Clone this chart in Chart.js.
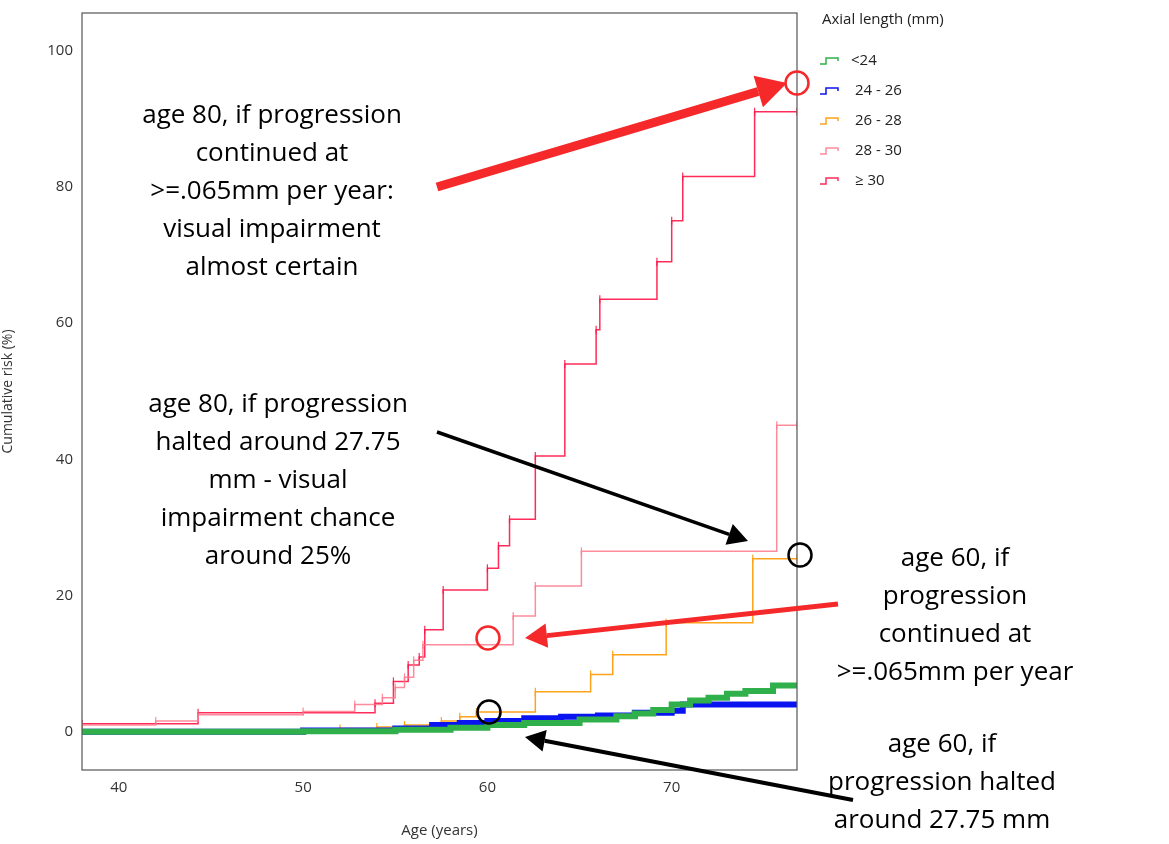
<!DOCTYPE html>
<html>
<head>
<meta charset="utf-8">
<script src="https://cdn.jsdelivr.net/npm/chart.js@4/dist/chart.umd.min.js"></script>
<style>
  html, body { margin: 0; padding: 0; background: #fff; }
  #wrap { width: 1169px; height: 844px; }
</style>
</head>
<body>
<div id="wrap"><canvas id="c"></canvas></div>
<script>
// step curves, [age, cumulative risk %]
const under24 = [[38,0],[50,0.1],[55,0.3],[58,0.6],[60,1],[62,1.3],[65,1.8],[67,2.3],[68,2.7],[69,3.2],[70,4],[71,4.6],[72,5],[73,5.6],[74,6],[75.5,6.8],[76.8,7]];
const r24_26 = [[38,0],[50,0.2],[55,0.5],[57,1],[58.5,1.3],[60,1.6],[62,2],[64,2.2],[66,2.4],[68,2.8],[70,3.1],[70.6,4],[76.8,4]];
const r26_28 = [[38,0.3],[52,0.5],[54,0.7],[55.5,1],[57.5,1.6],[58.5,2.2],[59.4,2.9],[62.6,5.9],[65.6,8.4],[66.8,11.3],[69.7,16],[74.4,25.4],[76.8,25.4]];
const r28_30 = [[38,1.0],[42,1.6],[44.3,2.5],[50,3],[52.8,4],[54.3,5],[55,6.5],[55.5,8],[56,10.5],[56.5,12.8],[61.4,17],[62.6,21.4],[65.1,26.5],[75.7,45],[76.8,45]];
const over30 = [[38,1.2],[44.3,2.8],[53.9,4.2],[54.9,7.4],[55.7,9.8],[56.3,11],[56.6,15],[57.6,20.8],[60,24],[60.6,27.3],[61.2,31.2],[62.6,40.5],[64.2,54],[65.9,59],[66.1,63.5],[69.2,69],[70,75],[70.6,81.5],[74.5,91],[76.8,91]];

const seriesNames = ['<24', '24 - 26', '26 - 28', '28 - 30', '\u2265 30'];
const seriesData = [under24, r24_26, r26_28, r28_30, over30];
const seriesColors = ['#2fb04a', '#0a14f0', '#ffa31a', 'rgba(255,120,140,0.85)', 'rgba(255,20,70,0.9)'];
const seriesWidths = [6, 6, 1.5, 1.5, 1.5];

const xTicks = [40, 50, 60, 70];
const yTicks = [0, 20, 40, 60, 80, 100];

const notes = [
  { x: 272, y: 116, lines: ['age 80, if progression', 'continued at', '>=.065mm per year:', 'visual impairment', 'almost certain'] },
  { x: 278, y: 405, lines: ['age 80, if progression', 'halted around 27.75', 'mm - visual', 'impairment chance', 'around 25%'] },
  { x: 955, y: 559, lines: ['age 60, if', 'progression', 'continued at', '>=.065mm per year'] },
  { x: 942, y: 745, lines: ['age 60, if', 'progression halted', 'around 27.75 mm'] }
];
const arrows = [
  { from: [437, 187], to: [787, 83], color: '#f5282a', w: 9, head: 30 },
  { from: [437, 432], to: [748, 541], color: '#000', w: 3.5, head: 20 },
  { from: [838, 604], to: [525, 638], color: '#f5282a', w: 5, head: 22 },
  { from: [853, 800], to: [525, 737], color: '#000', w: 4, head: 20 }
];
const circles = [
  { x: 797, y: 83, color: '#f5282a' },
  { x: 800, y: 555, color: '#000' },
  { x: 488, y: 638, color: '#f5282a' },
  { x: 489, y: 712, color: '#000' }
];

const overlay = {
  id: 'overlay',
  afterDraw(chart) {
    const ctx = chart.ctx;
    const a = chart.chartArea;
    ctx.save();
    // frame
    ctx.strokeStyle = '#555';
    ctx.lineWidth = 1.2;
    ctx.strokeRect(a.left, a.top, a.right - a.left, a.bottom - a.top);
    // legend
    ctx.fillStyle = '#222';
    ctx.font = '15px "Open Sans"';
    ctx.textBaseline = 'middle';
    ctx.fillText('Axial length (mm)', 822, 20);
    seriesNames.forEach((n, i) => {
      const y = 61 + i * 30;
      ctx.strokeStyle = seriesColors[i];
      ctx.lineWidth = 1.5;
      ctx.beginPath();
      ctx.moveTo(820, y + 3); ctx.lineTo(826, y + 3); ctx.lineTo(826, y - 3); ctx.lineTo(838, y - 3); ctx.lineTo(838, y);
      ctx.stroke();
      ctx.fillStyle = '#222';
      ctx.fillText(n, i === 0 ? 851 : 855, y);
    });
    // annotation text
    ctx.fillStyle = '#000';
    ctx.font = '26px "Open Sans"';
    ctx.textAlign = 'center';
    notes.forEach(n => n.lines.forEach((l, i) => ctx.fillText(l, n.x, n.y + i * 37.8)));
    // arrows
    arrows.forEach(ar => {
      const [x1, y1] = ar.from, [x2, y2] = ar.to;
      const ang = Math.atan2(y2 - y1, x2 - x1);
      const bx = x2 - ar.head * Math.cos(ang), by = y2 - ar.head * Math.sin(ang);
      ctx.strokeStyle = ar.color; ctx.fillStyle = ar.color;
      ctx.lineWidth = ar.w;
      ctx.beginPath(); ctx.moveTo(x1, y1); ctx.lineTo(bx, by); ctx.stroke();
      const hw = ar.head * 0.55;
      ctx.beginPath();
      ctx.moveTo(x2, y2);
      ctx.lineTo(bx + hw * Math.sin(ang), by - hw * Math.cos(ang));
      ctx.lineTo(bx - hw * Math.sin(ang), by + hw * Math.cos(ang));
      ctx.closePath(); ctx.fill();
    });
    circles.forEach(c => {
      ctx.strokeStyle = c.color; ctx.lineWidth = 2.5;
      ctx.beginPath(); ctx.arc(c.x, c.y, 11.5, 0, Math.PI * 2); ctx.stroke();
    });
    ctx.restore();
  }
};

new Chart(document.getElementById('c'), {
  type: 'line',
  data: {
    datasets: seriesData.map((d, i) => ({
      label: seriesNames[i],
      data: d.map(p => ({ x: p[0], y: p[1] })),
      borderColor: seriesColors[i],
      backgroundColor: seriesColors[i],
      borderWidth: seriesWidths[i],
      stepped: 'before',
      pointStyle: 'line',
      rotation: 90,
      pointRadius: i < 2 ? 0 : 4,
      pointBorderWidth: 1.2,
      fill: false
    }))
  },
  plugins: [overlay],
  options: {
    responsive: true,
    maintainAspectRatio: false,
    animation: false,
    layout: { padding: { top: -14, right: 372, left: 0, bottom: 0 } },
    plugins: { legend: { display: false }, tooltip: { enabled: false } },
    scales: {
      x: {
        type: 'linear', min: 38, max: 76.8,
        afterBuildTicks: ax => { ax.ticks = xTicks.map(v => ({ value: v })); },
        afterFit: ax => { ax.height = 74; },
        grid: { display: false, drawTicks: true, tickLength: 5, color: '#555' },
        border: { display: false },
        ticks: { color: '#333', font: { size: 15, family: 'Open Sans' }, padding: 4 },
        title: { display: true, text: 'Age (years)', color: '#333', font: { size: 15, family: 'Open Sans' }, padding: { top: 4 } }
      },
      y: {
        type: 'linear', min: -5.6, max: 105.5,
        afterBuildTicks: ax => { ax.ticks = yTicks.map(v => ({ value: v })); },
        afterFit: ax => { ax.width = 82; },
        grid: { display: false, drawTicks: true, tickLength: 5, color: '#555' },
        border: { display: false },
        ticks: { color: '#333', font: { size: 15, family: 'Open Sans' }, padding: 4 },
        title: { display: true, text: 'Cumulative risk (%)', color: '#333', font: { size: 14, family: 'Open Sans' }, padding: 0 }
      }
    }
  }
});
</script>
</body>
</html>
